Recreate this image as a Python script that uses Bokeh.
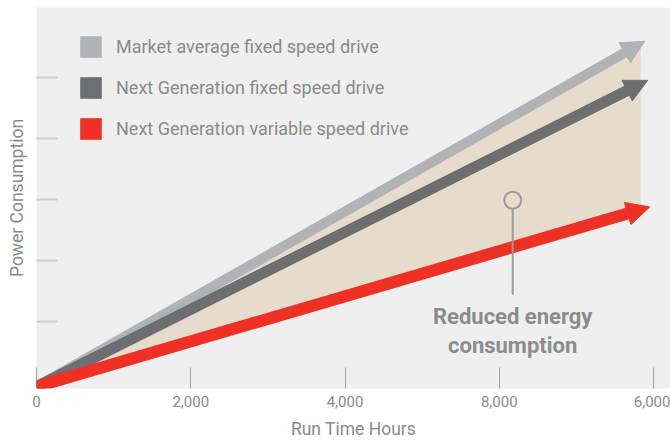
from bokeh.plotting import figure
from bokeh.models import Range1d, FixedTicker, Arrow, NormalHead, Legend, LegendItem
from bokeh.core.properties import value
from bokeh.embed import file_html
from bokeh.resources import INLINE

# ---- data (arbitrary power units vs run time hours) ----
series_names = ["Market average fixed speed drive",
                "Next Generation fixed speed drive",
                "Next Generation variable speed drive"]
start_x = [0, 0, 0]
start_y = [0, 0, 0]
end_x = [7886, 7925, 7951]
end_y = [5.67, 5.03, 2.95]

area_x = [0, 7834]
area_upper = [0, 5.63]
area_lower = [0, 2.91]

tick_values = [0, 2000, 4000, 6000, 8000]
tick_labels = ["0", "2,000", "4,000", "8,000", "6,000"]
y_tick_values = [1.07, 2.07, 3.07, 4.07, 5.07]

callout_x = [6174]
callout_circle_y = [3.06]
callout_stem_top = [2.92]
callout_stem_bottom = [1.51]
callout_text_y = [1.35]
callout_text = ["Reduced energy\nconsumption"]

swatch_anchor = [0]

# ---- styles ----
series_colors = ["#B1B3B6", "#6D6E71", "#EE3124"]
series_widths = [10, 11, 12]
FONT = "Roboto"
TEXT_COLOR = "#8A8A8A"

p = figure(width=670, height=441, output_backend="svg", toolbar_location=None,
           x_range=Range1d(0, 8220), y_range=Range1d(-0.03, 6.225),
           min_border_left=36, min_border_right=0, min_border_top=7, min_border_bottom=0)
p.background_fill_color = "#EFEFEF"
p.border_fill_color = "white"
p.outline_line_color = None
p.xgrid.visible = False
p.ygrid.visible = False

# x axis
xa = p.xaxis[0]
xa.ticker = FixedTicker(ticks=tick_values)
xa.major_label_overrides = {v: lab for v, lab in zip(tick_values, tick_labels)}
xa.axis_line_color = None
xa.major_tick_in = 21
xa.major_tick_out = 0
xa.major_tick_line_color = "#A0A0A0"
xa.major_tick_line_width = 1
xa.minor_tick_line_color = None
xa.major_label_text_font = FONT
xa.major_label_text_font_size = "15px"
xa.major_label_text_color = TEXT_COLOR
xa.major_label_standoff = 7
xa.axis_label = "Run Time Hours"
xa.axis_label_text_font = FONT
xa.axis_label_text_font_size = "17.5px"
xa.axis_label_text_font_style = "normal"
xa.axis_label_text_color = TEXT_COLOR
xa.axis_label_standoff = 9

# y axis (ticks only, no labels)
ya = p.yaxis[0]
ya.ticker = FixedTicker(ticks=y_tick_values)
ya.axis_line_color = None
ya.major_tick_in = 21
ya.major_tick_out = 0
ya.major_tick_line_color = "#CDCDCD"
ya.major_tick_line_width = 2
ya.minor_tick_line_color = None
ya.major_label_text_font_size = "1px"
ya.major_label_text_color = None
ya.major_label_standoff = 0
ya.axis_label = "Power Consumption"
ya.axis_label_text_font = FONT
ya.axis_label_text_font_size = "17.5px"
ya.axis_label_text_font_style = "normal"
ya.axis_label_text_color = TEXT_COLOR
ya.axis_label_standoff = 10

# shaded savings area
p.varea(x=area_x, y1=area_lower, y2=area_upper, fill_color="#E6DCCC")

# arrows
for sx, sy, ex, ey, c, w in zip(start_x, start_y, end_x, end_y, series_colors, series_widths):
    arr = Arrow(end=NormalHead(size=23, fill_color=c, line_color=c, line_width=1),
                x_start=sx, y_start=sy, x_end=ex, y_end=ey,
                line_color=c, line_width=w)
    p.add_layout(arr)

# callout
stem = p.segment(x0=callout_x, y0=callout_stem_top, x1=callout_x, y1=callout_stem_bottom,
                 line_color="#9C9C9C", line_width=2)
stem.level = "overlay"
circ = p.scatter(x=callout_x, y=callout_circle_y, size=17, marker="circle",
                 fill_color=None, line_color="#9C9C9C", line_width=2)
circ.level = "overlay"
txt = p.text(x=callout_x, y=callout_text_y, text=callout_text,
             text_font=value(FONT), text_font_size="22px", text_font_style="bold",
             text_color="#8C8C8C", text_align="center", text_baseline="top",
             text_line_height=1.15)
txt.level = "overlay"

# legend swatches (zero-size quads, only used for the legend)
items = []
for name, c in zip(series_names, series_colors):
    r = p.quad(left=swatch_anchor, right=swatch_anchor, top=swatch_anchor,
               bottom=swatch_anchor, fill_color=c, line_color=None)
    items.append(LegendItem(label=name, renderers=[r]))

legend = Legend(items=items, location=(41, 246), orientation="vertical",
                glyph_width=27, glyph_height=27, spacing=14, padding=0, margin=0,
                border_line_color=None, background_fill_alpha=0,
                label_text_font=FONT, label_text_font_size="18px",
                label_text_color=TEXT_COLOR, label_standoff=12)
p.add_layout(legend)

open("out.html", "w").write(file_html(p, INLINE))
